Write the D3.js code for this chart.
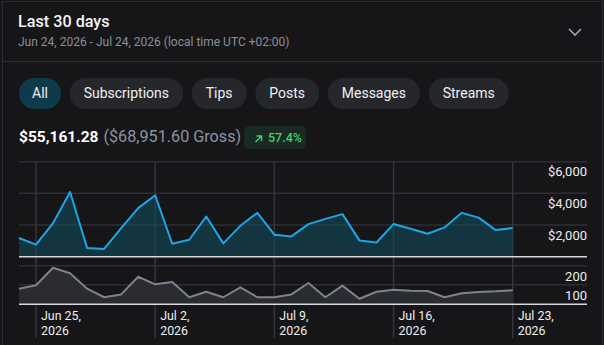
<!DOCTYPE html>
<html>
<head>
<meta charset="utf-8">
<script src="https://cdn.jsdelivr.net/npm/d3@7"></script>
<style>
  html, body { margin: 0; padding: 0; background: #161619; }
  svg { display: block; font-family: Roboto, "Noto Sans", sans-serif; }
</style>
</head>
<body>
<svg width="604" height="345"></svg>
<script>
// data
var days = ["2026-06-24","2026-06-25","2026-06-26","2026-06-27","2026-06-28","2026-06-29",
  "2026-06-30","2026-07-01","2026-07-02","2026-07-03","2026-07-04","2026-07-05","2026-07-06",
  "2026-07-07","2026-07-08","2026-07-09","2026-07-10","2026-07-11","2026-07-12","2026-07-13",
  "2026-07-14","2026-07-15","2026-07-16","2026-07-17","2026-07-18","2026-07-19","2026-07-20",
  "2026-07-21","2026-07-22","2026-07-23"];
var earnings = [1180, 760, 2120, 4090, 550, 490, 1810, 3070, 3880, 820, 1070, 2540, 840,
  1950, 2770, 1390, 1280, 2060, 2390, 2690, 1030, 900, 2060, 1770, 1450, 1850, 2770, 2470, 1680, 1810];
var counts = [79, 97, 189, 160, 79, 34, 49, 142, 102, 114, 34, 63, 34, 86, 34, 34, 49, 109,
  34, 95, 26, 63, 74, 68, 67, 34, 55, 62, 65, 71];
var tickDays = ["2026-06-25", "2026-07-02", "2026-07-09", "2026-07-16", "2026-07-23"];
var moneyTicks = [2000, 4000, 6000];
var countTicks = [100, 200];
var filters = ["All", "Subscriptions", "Tips", "Posts", "Messages", "Streams"];

var parse = d3.timeParse("%Y-%m-%d");
var dates = days.map(parse);

var svg = d3.select("svg");

// card
svg.append("rect").attr("x", 2.5).attr("y", 1.5).attr("width", 600).attr("height", 400)
  .attr("fill", "#161619").attr("stroke", "#2b2c30");
svg.append("line").attr("x1", 2).attr("x2", 604).attr("y1", 61.5).attr("y2", 61.5)
  .attr("stroke", "#2e2f33");

// header
svg.append("text").attr("x", 18).attr("y", 26.5).attr("fill", "#f3f3f3")
  .attr("font-size", 16.2).attr("font-weight", 500).text("Last 30 days");
svg.append("text").attr("x", 18).attr("y", 46).attr("fill", "#8b9098")
  .attr("font-size", 12).text("Jun 24, 2026 - Jul 24, 2026 (local time UTC +02:00)");
svg.append("path").attr("d", "M569,29 L575,35 L581,29").attr("fill", "none")
  .attr("stroke", "#a0a6ae").attr("stroke-width", 1.6);

// filter pills
var px = 19;
filters.forEach(function (f, i) {
  var g = svg.append("g");
  var t = g.append("text").attr("y", 98).attr("fill", "#eef0f2")
    .attr("font-size", 14).attr("text-anchor", "middle").text(f);
  var w = t.node().getComputedTextLength() + (i === 0 ? 26 : 28);
  g.insert("rect", "text").attr("x", px).attr("y", 78).attr("width", w).attr("height", 31)
    .attr("rx", 15.5).attr("fill", i === 0 ? "#0f3a4c" : "#26272b");
  t.attr("x", px + w / 2);
  px += w + 8.7;
});

// totals
var tot = svg.append("text").attr("x", 19).attr("y", 142);
tot.append("tspan").attr("fill", "#ffffff").attr("font-weight", 700).attr("font-size", 15.5)
  .text("$55,161.28");
tot.append("tspan").attr("fill", "#8d94a0").attr("dx", 5).attr("font-size", 16.2)
  .text("($68,951.60 Gross)");
svg.append("rect").attr("x", 244).attr("y", 126).attr("width", 62).attr("height", 23)
  .attr("rx", 5).attr("fill", "#182a21");
svg.append("path").attr("d", "M255.5,142 L261.5,136 M256.5,136 L261.5,136 L261.5,141")
  .attr("fill", "none").attr("stroke", "#3fd16e").attr("stroke-width", 1.5);
svg.append("text").attr("x", 268).attr("y", 142).attr("fill", "#3fd16e")
  .attr("font-size", 12.5).attr("font-weight", 500).text("57.4%");

// scales
var x = d3.scaleTime().domain([dates[0], dates[dates.length - 1]]).range([19, 512.7]);
var yTop = d3.scaleLinear().domain([0, 6000]).range([256.7, 161.7]);
var yBot = d3.scaleLinear().domain([0, 200]).range([303.7, 265.7]);
var left = 19, right = 587;

// grid
var grid = svg.append("g");
grid.selectAll(".hm").data(moneyTicks).enter().append("line")
  .attr("x1", left).attr("x2", right)
  .attr("y1", function (d) { return yTop(d); }).attr("y2", function (d) { return yTop(d); })
  .attr("stroke", "#2e2f34").attr("stroke-width", 1.5);
grid.selectAll(".hc").data(countTicks).enter().append("line")
  .attr("x1", left).attr("x2", right)
  .attr("y1", function (d) { return yBot(d); }).attr("y2", function (d) { return yBot(d); })
  .attr("stroke", "#2e2f34").attr("stroke-width", 1.5);
grid.selectAll(".v").data(tickDays.map(parse)).enter().append("line")
  .attr("x1", function (d) { return x(d); }).attr("x2", function (d) { return x(d); })
  .attr("y1", 161).attr("y2", 338)
  .attr("stroke", "#34353a").attr("stroke-width", 1.5);

// top series
var areaTop = d3.area().x(function (d, i) { return x(dates[i]); })
  .y0(yTop(0)).y1(function (d) { return yTop(d); });
var lineTop = d3.line().x(function (d, i) { return x(dates[i]); })
  .y(function (d) { return yTop(d); });
svg.append("path").datum(earnings).attr("d", areaTop).attr("fill", "#12505f").attr("fill-opacity", 0.55);
svg.append("path").datum(earnings).attr("d", lineTop).attr("fill", "none")
  .attr("stroke", "#1ba7e6").attr("stroke-width", 2).attr("stroke-linejoin", "round");

// bottom series
var areaBot = d3.area().x(function (d, i) { return x(dates[i]); })
  .y0(yBot(0)).y1(function (d) { return yBot(d); });
var lineBot = d3.line().x(function (d, i) { return x(dates[i]); })
  .y(function (d) { return yBot(d); });
svg.append("path").datum(counts).attr("d", areaBot).attr("fill", "#2b2c31");
svg.append("path").datum(counts).attr("d", lineBot).attr("fill", "none")
  .attr("stroke", "#7c838d").attr("stroke-width", 2).attr("stroke-linejoin", "round");

// baselines
svg.append("line").attr("x1", left).attr("x2", right).attr("y1", yTop(0)).attr("y2", yTop(0))
  .attr("stroke", "#d6dadf").attr("stroke-width", 1.5);
svg.append("line").attr("x1", left).attr("x2", right).attr("y1", yBot(0) + 0.6).attr("y2", yBot(0) + 0.6)
  .attr("stroke", "#d6dadf").attr("stroke-width", 1.5);

// right axis labels
var fmtMoney = d3.format("$,");
svg.append("g").selectAll("text").data(moneyTicks).enter().append("text")
  .attr("x", right).attr("y", function (d) { return yTop(d) + 14.6; })
  .attr("text-anchor", "end").attr("font-size", 13).attr("fill", "#eceef0")
  .text(function (d) { return fmtMoney(d); });
svg.append("g").selectAll("text").data(countTicks).enter().append("text")
  .attr("x", right).attr("y", function (d) { return yBot(d) + 14.8; })
  .attr("text-anchor", "end").attr("font-size", 13).attr("fill", "#eceef0")
  .text(function (d) { return d; });

// date labels, two lines each
var fmtDay = d3.timeFormat("%b %-d,");
var xg = svg.append("g");
xg.selectAll(".d1").data(tickDays.map(parse)).enter().append("text")
  .attr("x", function (d) { return x(d) + 5; }).attr("y", 320.3)
  .attr("font-size", 12.4).attr("fill", "#eceef0")
  .text(function (d) { return fmtDay(d); });
xg.selectAll(".d2").data(tickDays.map(parse)).enter().append("text")
  .attr("x", function (d) { return x(d) + 5; }).attr("y", 334.6)
  .attr("font-size", 12.4).attr("fill", "#eceef0")
  .text(function (d) { return d.getFullYear(); });
</script>
</body>
</html>
